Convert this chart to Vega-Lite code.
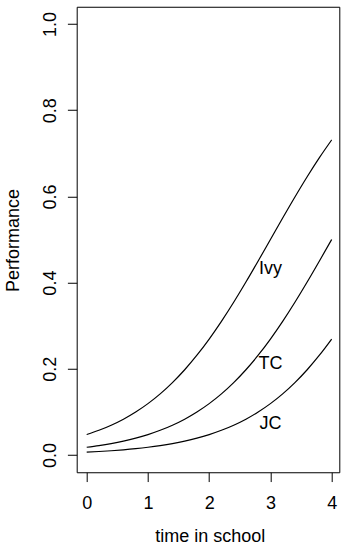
{
  "$schema": "https://vega.github.io/schema/vega-lite/v6.json",
  "width": 262.6,
  "height": 465.5,
  "autosize": {"type": "none"},
  "padding": {"left": 76.7, "top": 6.76, "right": 1.7, "bottom": 73.74},
  "background": "white",
  "config": {
    "view": {"stroke": "black", "strokeWidth": 1},
    "font": "Liberation Sans",
    "axis": {"grid": false, "domain": false, "tickColor": "black", "tickSize": 9.3, "tickWidth": 1, "labelColor": "black", "labelFont": "Liberation Sans", "labelFontSize": 18, "titleFont": "Liberation Sans", "titleFontSize": 18, "titleFontWeight": "normal", "titleColor": "black"}
  },
  "datasets": {
    "curves": [
      {"time": 0.0, "perf": 0.04743, "school": "Ivy"},
      {"time": 0.2, "perf": 0.05732, "school": "Ivy"},
      {"time": 0.4, "perf": 0.06914, "school": "Ivy"},
      {"time": 0.6, "perf": 0.08317, "school": "Ivy"},
      {"time": 0.8, "perf": 0.09975, "school": "Ivy"},
      {"time": 1.0, "perf": 0.1192, "school": "Ivy"},
      {"time": 1.2, "perf": 0.14185, "school": "Ivy"},
      {"time": 1.4, "perf": 0.16798, "school": "Ivy"},
      {"time": 1.6, "perf": 0.19782, "school": "Ivy"},
      {"time": 1.8, "perf": 0.23148, "school": "Ivy"},
      {"time": 2.0, "perf": 0.26894, "school": "Ivy"},
      {"time": 2.2, "perf": 0.31003, "school": "Ivy"},
      {"time": 2.4, "perf": 0.35434, "school": "Ivy"},
      {"time": 2.6, "perf": 0.40131, "school": "Ivy"},
      {"time": 2.8, "perf": 0.45017, "school": "Ivy"},
      {"time": 3.0, "perf": 0.5, "school": "Ivy"},
      {"time": 3.2, "perf": 0.54983, "school": "Ivy"},
      {"time": 3.4, "perf": 0.59869, "school": "Ivy"},
      {"time": 3.6, "perf": 0.64566, "school": "Ivy"},
      {"time": 3.8, "perf": 0.68997, "school": "Ivy"},
      {"time": 4.0, "perf": 0.73106, "school": "Ivy"},
      {"time": 0.0, "perf": 0.01799, "school": "TC"},
      {"time": 0.2, "perf": 0.02188, "school": "TC"},
      {"time": 0.4, "perf": 0.0266, "school": "TC"},
      {"time": 0.6, "perf": 0.0323, "school": "TC"},
      {"time": 0.8, "perf": 0.03917, "school": "TC"},
      {"time": 1.0, "perf": 0.04743, "school": "TC"},
      {"time": 1.2, "perf": 0.05732, "school": "TC"},
      {"time": 1.4, "perf": 0.06914, "school": "TC"},
      {"time": 1.6, "perf": 0.08317, "school": "TC"},
      {"time": 1.8, "perf": 0.09975, "school": "TC"},
      {"time": 2.0, "perf": 0.1192, "school": "TC"},
      {"time": 2.2, "perf": 0.14185, "school": "TC"},
      {"time": 2.4, "perf": 0.16798, "school": "TC"},
      {"time": 2.6, "perf": 0.19782, "school": "TC"},
      {"time": 2.8, "perf": 0.23148, "school": "TC"},
      {"time": 3.0, "perf": 0.26894, "school": "TC"},
      {"time": 3.2, "perf": 0.31003, "school": "TC"},
      {"time": 3.4, "perf": 0.35434, "school": "TC"},
      {"time": 3.6, "perf": 0.40131, "school": "TC"},
      {"time": 3.8, "perf": 0.45017, "school": "TC"},
      {"time": 4.0, "perf": 0.5, "school": "TC"},
      {"time": 0.0, "perf": 0.00669, "school": "JC"},
      {"time": 0.2, "perf": 0.00816, "school": "JC"},
      {"time": 0.4, "perf": 0.00995, "school": "JC"},
      {"time": 0.6, "perf": 0.01213, "school": "JC"},
      {"time": 0.8, "perf": 0.01477, "school": "JC"},
      {"time": 1.0, "perf": 0.01799, "school": "JC"},
      {"time": 1.2, "perf": 0.02188, "school": "JC"},
      {"time": 1.4, "perf": 0.0266, "school": "JC"},
      {"time": 1.6, "perf": 0.0323, "school": "JC"},
      {"time": 1.8, "perf": 0.03917, "school": "JC"},
      {"time": 2.0, "perf": 0.04743, "school": "JC"},
      {"time": 2.2, "perf": 0.05732, "school": "JC"},
      {"time": 2.4, "perf": 0.06914, "school": "JC"},
      {"time": 2.6, "perf": 0.08317, "school": "JC"},
      {"time": 2.8, "perf": 0.09975, "school": "JC"},
      {"time": 3.0, "perf": 0.1192, "school": "JC"},
      {"time": 3.2, "perf": 0.14185, "school": "JC"},
      {"time": 3.4, "perf": 0.16798, "school": "JC"},
      {"time": 3.6, "perf": 0.19782, "school": "JC"},
      {"time": 3.8, "perf": 0.23148, "school": "JC"},
      {"time": 4.0, "perf": 0.26894, "school": "JC"}
    ],
    "labels": [
      {"time": 3.0, "perf": 0.4316, "label": "Ivy"},
      {"time": 3.0, "perf": 0.2104, "label": "TC"},
      {"time": 3.0, "perf": 0.0719, "label": "JC"}
    ]
  },
  "layer": [
    {
      "data": {"name": "curves"},
      "mark": {"type": "line", "color": "black", "strokeWidth": 1.2, "interpolate": "monotone"},
      "encoding": {
        "x": {"field": "time", "type": "quantitative", "scale": {"domain": [-0.1633, 4.1247], "nice": false, "zero": false},
          "axis": {"values": [0, 1, 2, 3, 4], "format": "d", "title": "time in school", "labelBaseline": "alphabetic", "labelPadding": 26.7, "titleX": 133, "titleY": 69.5, "titleBaseline": "alphabetic", "titleAlign": "center", "titleAnchor": null}},
        "y": {"field": "perf", "type": "quantitative", "scale": {"domain": [-0.04, 1.04], "nice": false, "zero": false},
          "axis": {"values": [0, 0.2, 0.4, 0.6, 0.8, 1.0], "format": ".1f", "title": "Performance", "labelAngle": -90, "labelAlign": "center", "labelBaseline": "alphabetic", "labelPadding": 11.4, "titleAngle": -90, "titleX": -58.4, "titleY": 233.2, "titleBaseline": "alphabetic", "titleAlign": "center"}},
        "detail": {"field": "school", "type": "nominal"}
      }
    },
    {
      "data": {"name": "labels"},
      "mark": {"type": "text", "color": "black", "font": "Liberation Sans", "fontSize": 18, "align": "center", "baseline": "middle"},
      "encoding": {
        "x": {"field": "time", "type": "quantitative"},
        "y": {"field": "perf", "type": "quantitative"},
        "text": {"field": "label", "type": "nominal"}
      }
    }
  ]
}
